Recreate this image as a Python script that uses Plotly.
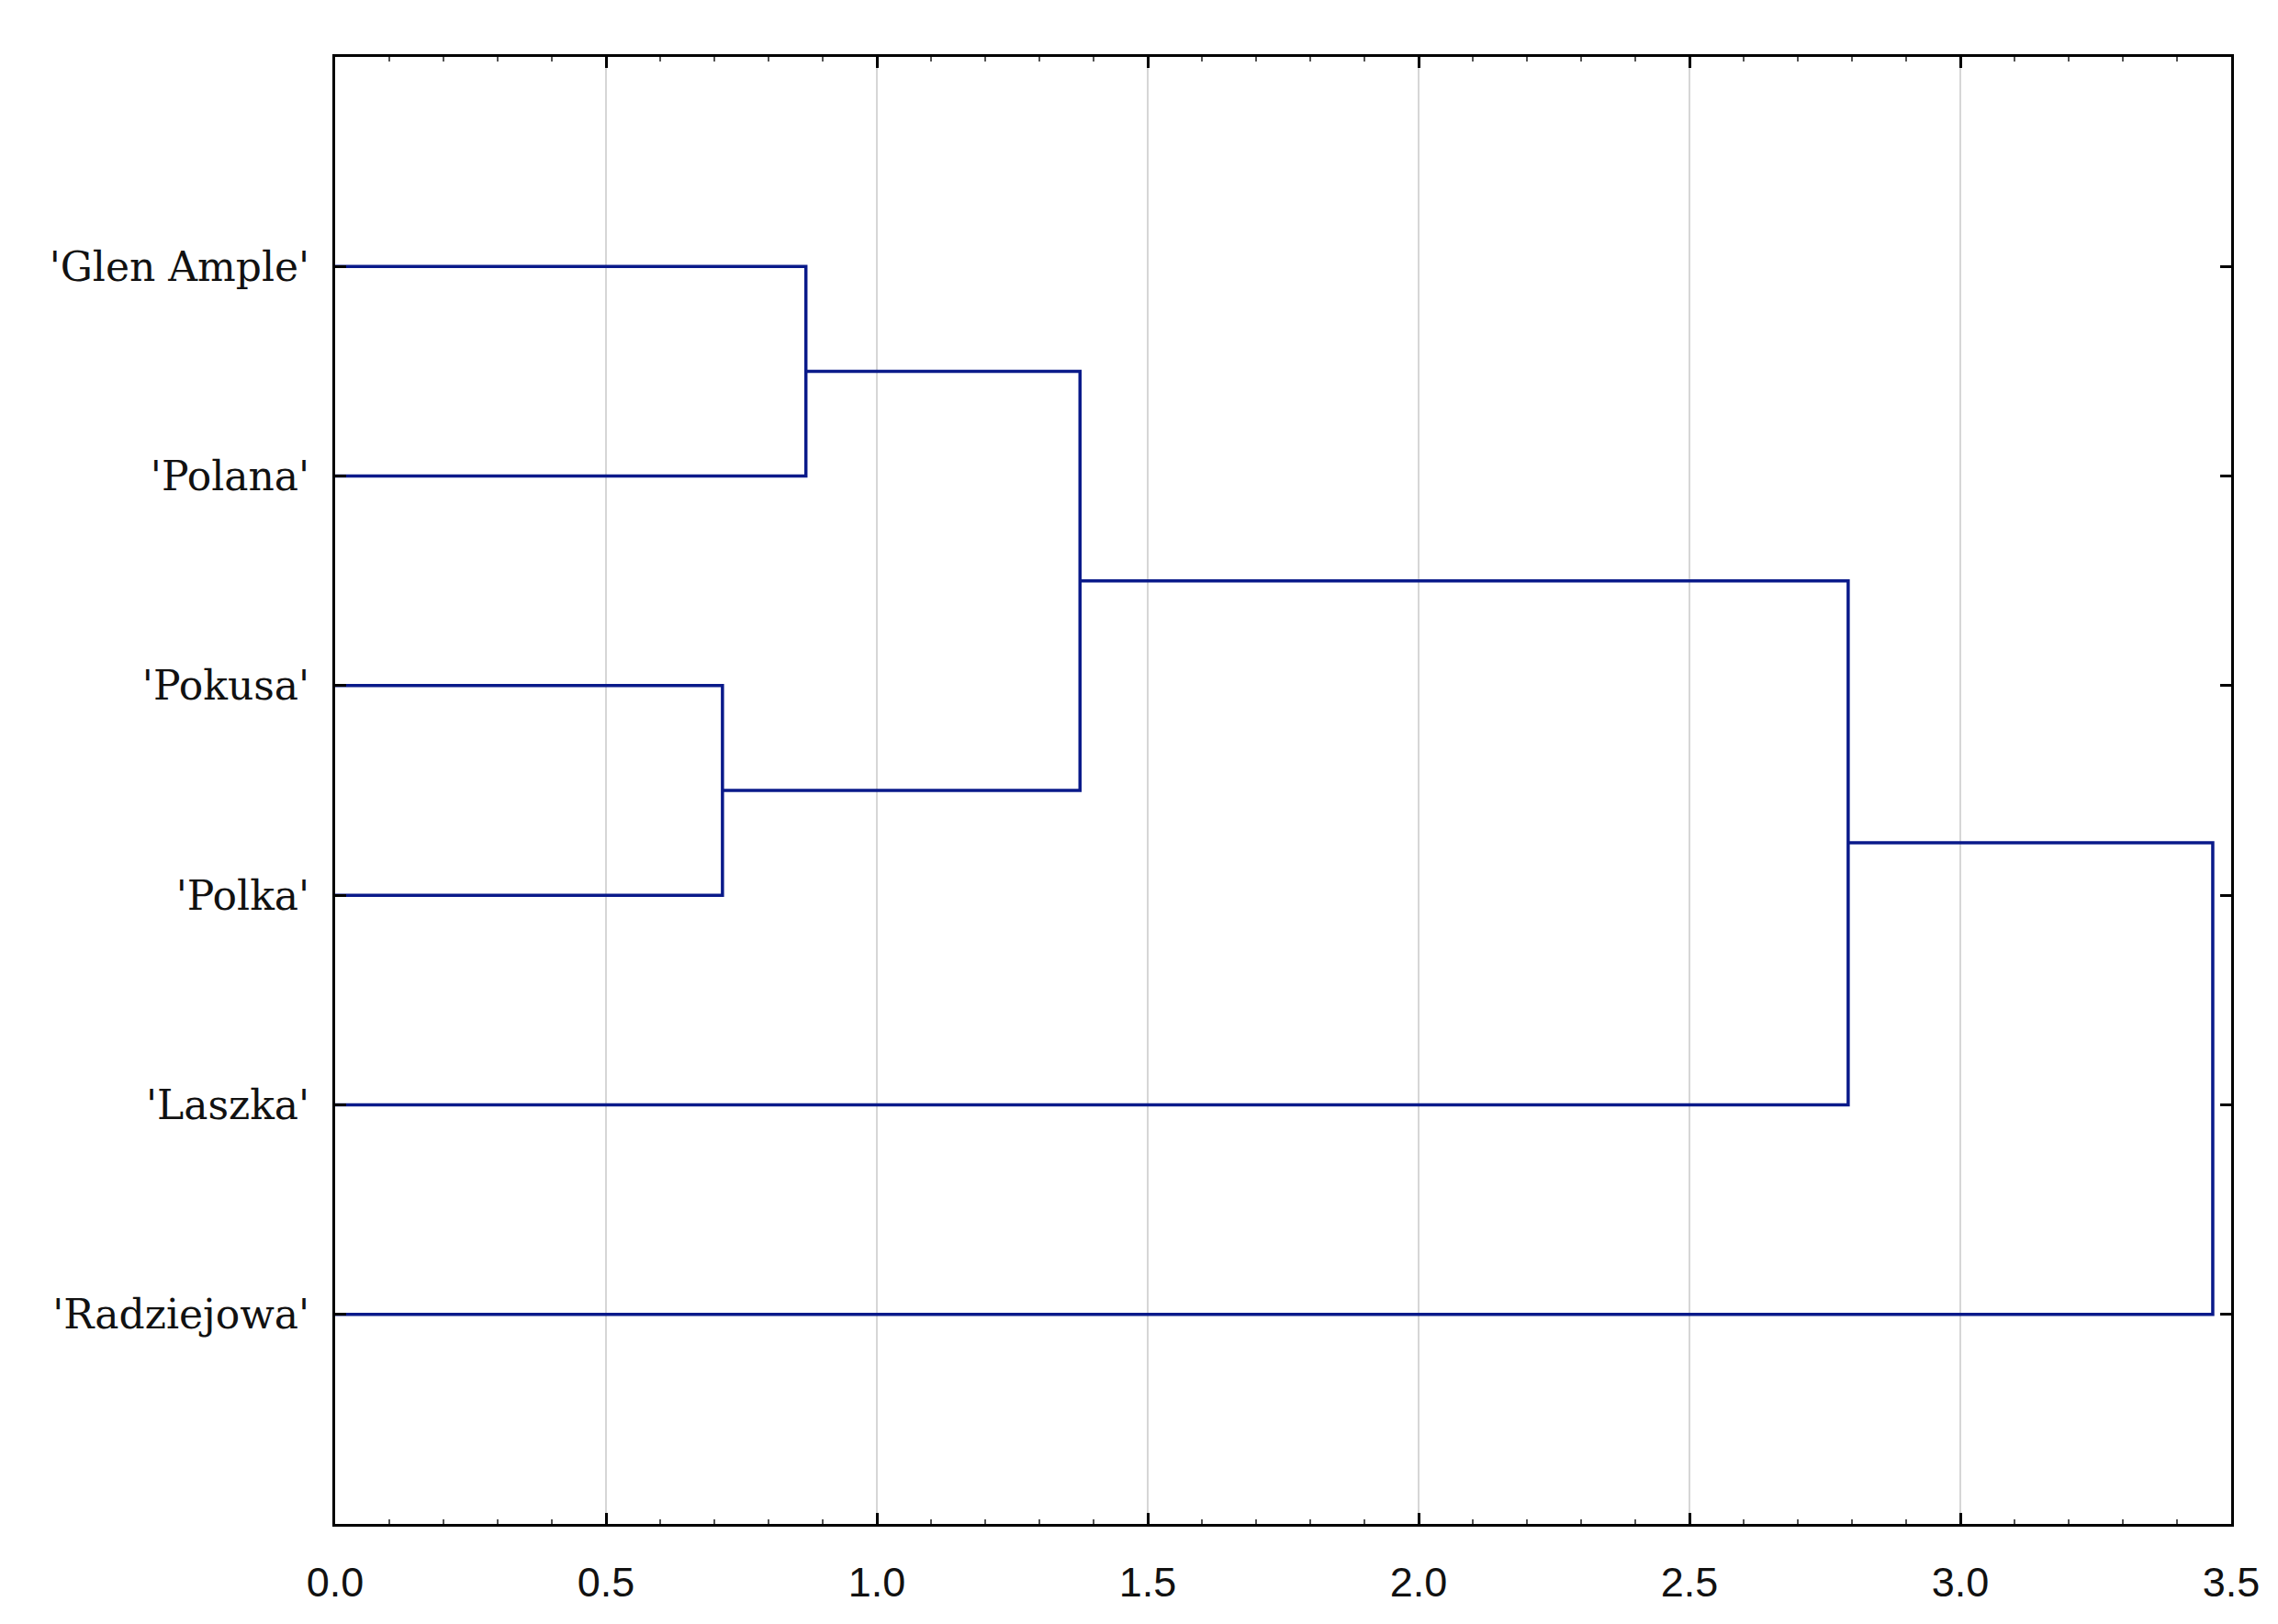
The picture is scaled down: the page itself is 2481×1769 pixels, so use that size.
import plotly.graph_objects as go

# leaves, top to bottom
odmiany = ["'Glen Ample'", "'Polana'", "'Pokusa'", "'Polka'", "'Laszka'", "'Radziejowa'"]

# merges: (left node, right node, linkage distance); nodes >= 6 are earlier merges
polaczenia_a = [2, 0, 7, 8, 9]
polaczenia_b = [3, 1, 6, 4, 5]
odleglosci = [0.715, 0.869, 1.375, 2.793, 3.466]

x_ticks = [0.0, 0.5, 1.0, 1.5, 2.0, 2.5, 3.0, 3.5]

LINE = "#0a1a8a"

# position / height of every node
poz = {i: float(i) for i in range(len(odmiany))}
wys = {i: 0.0 for i in range(len(odmiany))}

fig = go.Figure()
for k, (a, b, h) in enumerate(zip(polaczenia_a, polaczenia_b, odleglosci)):
    node = len(odmiany) + k
    fig.add_trace(go.Scatter(
        x=[wys[a], h, h, wys[b]],
        y=[poz[a], poz[a], poz[b], poz[b]],
        mode="lines",
        line=dict(color=LINE, width=3.5),
        hoverinfo="skip",
        showlegend=False,
    ))
    poz[node] = (poz[a] + poz[b]) / 2
    wys[node] = h

fig.update_layout(
    width=2465,
    height=1753,
    margin=dict(l=357, r=43, t=54, b=101),
    plot_bgcolor="white",
    paper_bgcolor="white",
)

fig.update_xaxes(
    range=[0, 3.5],
    tickvals=x_ticks,
    ticktext=[f"{v:.1f}" for v in x_ticks],
    showgrid=True,
    gridcolor="#d6d6d6",
    gridwidth=2,
    showline=True,
    linecolor="black",
    linewidth=3,
    mirror="ticks",
    ticks="inside",
    ticklen=12,
    tickwidth=3,
    tickcolor="black",
    minor=dict(dtick=0.1, ticks="inside", ticklen=5, tickwidth=2, tickcolor="#555555", showgrid=False),
    tickfont=dict(family="Liberation Sans", size=45, color="#111111"),
    ticklabelstandoff=22,
    zeroline=False,
)

fig.update_yaxes(
    range=[6, -1],
    tickvals=list(range(len(odmiany))),
    ticktext=odmiany,
    showgrid=False,
    showline=True,
    linecolor="black",
    linewidth=3,
    mirror="ticks",
    ticks="inside",
    ticklen=12,
    tickwidth=3,
    tickcolor="black",
    tickfont=dict(family="DejaVu Serif", size=44, color="#111111"),
    ticklabelstandoff=16,
    zeroline=False,
)

fig.write_html("out.html")
